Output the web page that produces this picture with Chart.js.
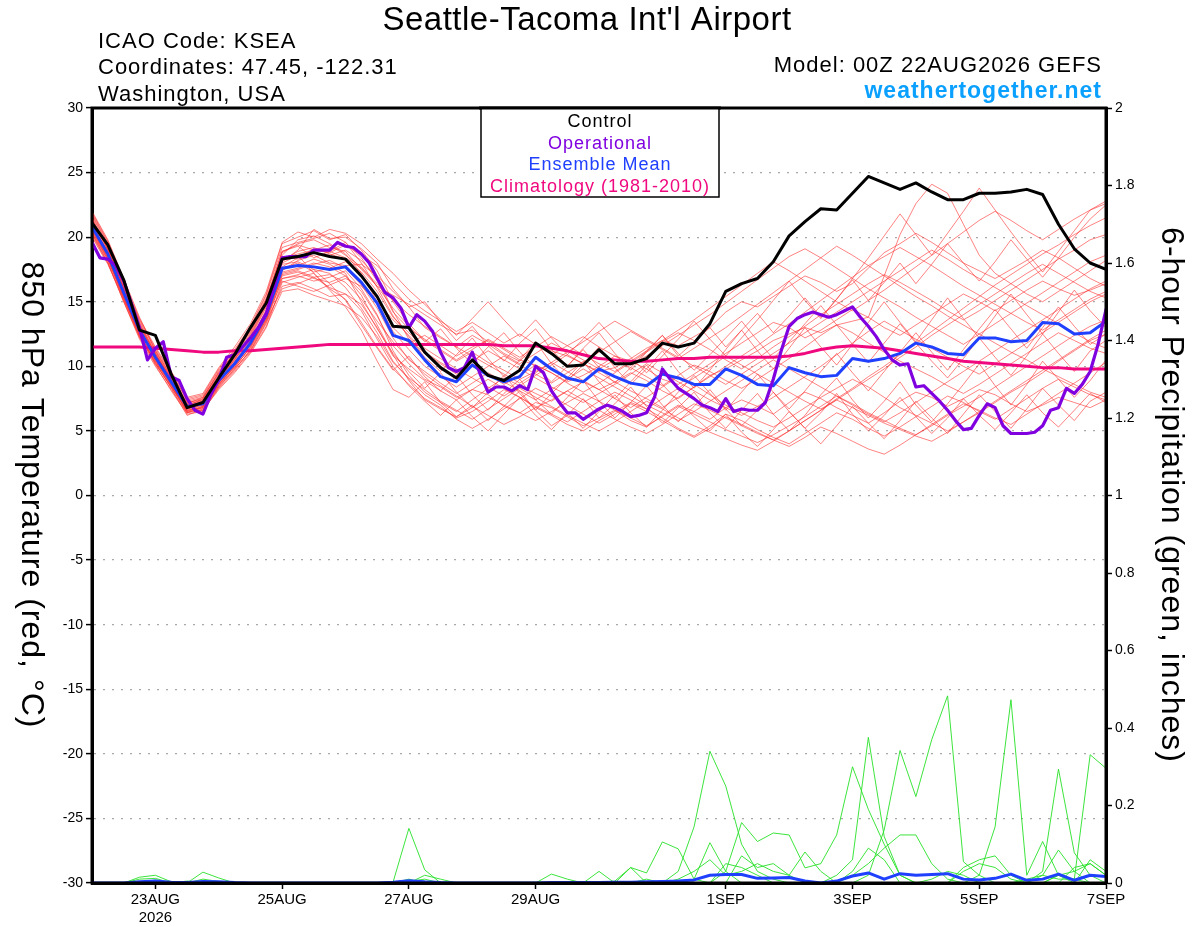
<!DOCTYPE html>
<html><head><meta charset="utf-8">
<script src="https://cdn.jsdelivr.net/npm/chart.js@4.4.1/dist/chart.umd.min.js"></script>
<style>html,body{margin:0;padding:0;background:#fff;overflow:hidden}canvas{display:block}</style>
</head><body>
<canvas id="c" width="1200" height="927"></canvas>
<script>
// ---------- DATA ----------
const xTickHours = [24, 72, 120, 168, 240, 288, 336, 384];
const xTickLabels = [['23AUG','2026'], '25AUG', '27AUG', '29AUG', '1SEP', '3SEP', '5SEP', '7SEP'];
const leftTicksStep = 5, rightTicksStep = 0.2;

// 6-hourly (0..384h)
const control = [
 21.1,19.4,16.7,12.8,12.4,9.4,6.8,7.2,9.1,10.9,
 13.0,14.9,18.3,18.5,18.8,18.5,18.3,17.0,15.4,13.1,
 13.0,11.1,9.9,9.1,10.5,9.3,8.9,9.7,11.8,11.0,
 10.0,10.1,11.3,10.2,10.2,10.6,11.8,11.5,11.8,13.3,
 15.8,16.4,16.8,18.1,20.1,21.2,22.2,22.1,23.4,24.7,
 24.2,23.7,24.2,23.5,22.9,22.9,23.4,23.4,23.5,23.7,
 23.3,21.0,19.1,18.0,17.5];
// 3-hourly (0..384h)
const operational = [
 19.6,18.4,18.3,17.8,16.6,14.8,13.0,10.5,11.4,11.9,
 9.2,8.9,7.5,6.6,6.3,7.8,9.0,10.7,10.9,11.5,
 12.2,13.0,14.1,16.2,18.4,18.5,18.5,18.5,19.0,19.0,
 19.0,19.6,19.3,19.2,18.7,18.0,16.8,15.7,15.3,14.5,
 13.0,14.0,13.5,12.7,11.1,9.9,9.6,9.9,11.1,9.4,
 8.0,8.4,8.4,8.1,8.5,8.2,10.0,9.5,8.1,7.2,
 6.4,6.4,5.9,6.3,6.7,7.0,6.8,6.5,6.1,6.2,
 6.4,7.6,9.8,9.0,8.3,7.9,7.5,7.0,6.8,6.5,
 7.5,6.5,6.7,6.6,6.6,7.2,9.0,11.2,13.1,13.7,
 14.0,14.2,14.0,13.8,14.0,14.3,14.6,13.8,13.1,12.3,
 11.3,10.5,10.1,10.2,8.4,8.5,7.9,7.3,6.6,5.8,
 5.1,5.2,6.2,7.1,6.8,5.4,4.8,4.8,4.8,4.9,
 5.4,6.6,6.8,8.3,7.9,8.6,9.6,11.7,14.4];
const ensMean = [
 20.8,18.7,15.7,12.8,10.7,8.8,6.9,7.1,8.9,10.2,
 11.8,14.0,17.6,17.8,17.7,17.5,17.7,16.5,14.9,12.4,
 12.0,10.5,9.2,8.8,10.1,9.3,8.8,9.2,10.7,9.8,
 9.1,8.8,9.8,9.2,8.7,8.5,9.4,9.1,8.6,8.6,
 9.8,9.3,8.6,8.5,9.9,9.5,9.2,9.3,10.6,10.4,
 10.6,11.0,11.8,11.5,11.0,10.9,12.2,12.2,11.9,12.0,
 13.4,13.3,12.5,12.6,13.5];
const climatology = [
 11.5,11.5,11.5,11.5,11.4,11.3,11.2,11.1,11.1,11.2,
 11.2,11.3,11.4,11.5,11.6,11.7,11.7,11.7,11.7,11.7,
 11.7,11.7,11.7,11.7,11.7,11.7,11.6,11.6,11.6,11.4,
 11.2,10.9,10.6,10.5,10.4,10.4,10.5,10.6,10.6,10.7,
 10.7,10.7,10.7,10.7,10.8,11.0,11.3,11.5,11.6,11.5,
 11.4,11.2,11.0,10.8,10.6,10.4,10.3,10.2,10.1,10.0,
 9.9,9.9,9.8,9.8,9.8];

const member01 = [21.5,19.2,16.0,13.2,10.9,9.0,7.2,7.4,9.4,10.8, 12.6,15.0,18.8,19.5,19.8,19.2,18.9,17.5,16.2,15.5, 14.8,14.0,13.2,12.5,12.8,11.9,11.0,10.4,11.6,11.2, 10.8,10.2,9.6,9.9,10.6,11.4,12.0,11.6,12.3,13.0, 14.2,15.0,14.6,15.4,16.2,17.0,16.5,15.8,16.4,17.6, 18.8,19.5,20.3,19.6,18.8,18.0,17.4,16.8,17.5,18.2, 19.0,18.4,17.6,16.8,16.2];
const member02 = [20.6,18.4,15.3,12.5,10.2,8.4,6.6,6.8,8.6,10.0, 11.4,13.6,17.0,17.3,16.8,16.5,17.0,15.8,13.9,11.6, 10.2,9.0,8.4,7.6,8.2,7.8,6.9,6.4,7.2,6.8, 6.1,5.4,6.0,6.6,5.8,5.3,6.2,7.0,6.5,5.9, 6.8,7.4,6.9,6.3,7.2,8.0,7.5,6.8,6.2,5.6, 6.4,7.3,8.0,7.6,6.9,7.5,8.2,7.8,7.1,6.5, 7.0,7.6,7.2,6.8,7.4];
const member03 = [21.0,18.9,15.9,13.0,11.1,9.2,7.1,7.3,9.0,10.5, 12.2,14.6,18.2,18.9,19.2,18.7,18.3,17.0,15.3,13.0, 11.8,12.4,11.6,10.8,11.5,12.0,11.3,10.5,10.1,9.5, 8.8,9.3,10.0,10.8,10.4,9.8,9.0,8.6,9.4,10.2, 11.0,11.8,12.6,13.4,13.0,12.2,12.8,13.6,14.4,13.8, 13.0,12.4,13.2,14.0,14.8,15.6,15.0,14.3,15.1,15.9, 16.6,16.0,15.5,15.9,16.4];
const member04 = [20.2,18.1,15.1,12.2,10.4,8.6,6.5,6.6,8.2,9.5, 11.0,13.0,16.5,16.9,17.2,16.0,15.2,13.4,11.5,9.8, 8.6,7.5,6.8,6.0,6.5,7.3,8.2,7.6,6.8,6.2, 5.5,5.0,5.8,6.5,7.2,6.7,6.0,5.2,4.6,5.4, 6.3,5.8,5.1,4.5,4.0,4.8,5.6,6.4,5.9,5.2, 4.6,5.3,6.1,6.9,7.7,7.2,6.5,5.9,6.7,7.5, 8.3,9.0,8.4,7.8,7.4];
const member05 = [21.8,19.6,16.5,13.5,11.3,9.4,7.5,7.8,9.8,11.3, 13.1,15.6,19.5,20.0,20.5,19.8,20.2,19.0,17.4,15.0, 13.3,12.0,11.2,10.4,11.1,10.3,9.7,9.0,9.6,10.3, 9.6,8.9,8.2,8.8,9.5,8.9,8.1,7.5,8.4,9.3, 9.8,10.5,11.2,12.0,12.5,13.0,12.6,13.2,13.5,13.8, 17.0,20.2,22.6,24.1,23.4,21.0,18.6,17.2,16.4,15.6, 15.0,15.8,16.6,17.4,18.2];
const member06 = [20.4,18.2,15.6,12.7,10.6,8.7,6.4,6.9,8.8,10.0, 11.9,14.2,16.8,17.0,16.6,16.9,17.4,16.0,14.0,11.2, 9.3,8.0,7.2,6.5,7.4,8.3,9.1,8.5,7.9,7.3, 8.1,8.8,8.2,7.5,6.8,7.6,8.4,9.2,8.6,7.8, 7.0,6.4,5.8,5.3,6.0,6.8,7.6,8.3,9.0,8.4, 7.6,6.8,6.2,5.6,5.0,5.7,6.4,7.2,8.0,8.7, 9.5,10.4,11.2,12.0,12.5];
const member07 = [21.3,19.0,15.8,12.9,10.5,8.5,6.8,7.0,8.7,10.3, 11.6,13.8,17.4,18.2,18.6,18.0,17.8,17.9,17.0,15.8, 14.6,13.0,12.2,11.5,12.4,11.7,10.9,10.2,11.0,11.8, 11.2,10.5,9.8,10.5,9.9,9.2,8.5,9.3,10.1,9.6, 8.9,8.3,9.0,9.8,10.6,11.5,12.4,13.2,12.6,11.8, 11.1,10.4,9.8,9.2,8.5,7.9,8.6,9.4,10.2,11.0, 11.8,12.6,12.0,11.4,11.0];
const member08 = [20.0,17.9,15.2,12.6,10.9,9.1,7.0,7.2,9.1,10.4, 12.0,14.3,17.9,18.1,17.5,17.2,16.1,14.5,12.6,10.4, 9.0,7.8,7.0,5.9,5.2,5.9,6.7,7.5,8.3,7.7, 7.0,6.3,5.6,6.3,7.1,6.5,5.8,5.1,4.5,5.2, 6.1,5.5,4.9,4.3,3.8,4.5,5.3,4.8,4.2,3.6, 3.2,3.9,4.7,5.5,6.3,7.1,6.6,6.0,5.5,6.3, 7.1,7.9,8.7,9.5,10.3];
const member09 = [21.2,19.3,16.2,13.4,11.0,8.9,6.9,7.5,9.6,11.0, 12.8,15.3,18.5,18.3,18.8,18.6,19.0,18.2,16.9,14.3, 12.1,11.0,10.2,9.4,10.1,9.4,8.6,9.3,10.1,9.5, 8.7,8.0,8.7,9.5,10.3,11.1,11.9,12.6,12.0,11.3, 10.5,9.8,10.6,11.5,12.3,13.1,14.0,14.8,15.6,16.4, 17.1,16.5,15.8,15.1,14.3,13.6,14.3,15.1,15.9,16.7, 17.5,18.3,19.0,19.8,20.2];
const member10 = [20.9,18.6,15.5,12.4,10.3,8.3,6.2,6.7,8.5,9.8, 11.2,13.3,16.2,16.5,16.0,15.4,15.6,14.8,13.0,10.8, 9.8,8.9,8.1,7.4,8.2,9.0,8.3,7.6,6.9,6.3, 5.7,6.5,7.3,8.0,7.4,6.7,7.5,8.3,9.1,9.9, 10.8,10.1,9.4,8.7,8.0,7.3,6.7,7.4,8.2,9.0, 9.8,10.7,11.5,12.4,13.2,14.0,14.8,15.6,16.4,17.2, 17.9,17.2,16.5,15.8,15.3];
const member11 = [21.6,19.4,16.3,13.3,11.2,9.3,7.3,7.6,9.5,11.1, 12.9,15.2,18.9,19.4,19.0,18.8,19.4,18.6,17.8,16.5, 15.2,14.3,13.5,12.7,13.4,12.6,11.8,12.5,11.7,10.9, 11.6,12.3,11.5,10.8,10.1,10.8,11.6,12.4,13.2,14.0, 14.9,15.8,16.7,17.6,18.5,19.1,18.4,17.6,16.8,16.0, 15.3,14.6,13.8,13.1,12.4,11.7,12.5,13.3,14.1,14.9, 15.7,16.5,17.3,18.1,18.6];
const member12 = [20.3,18.3,15.4,12.3,10.1,8.1,6.3,6.5,8.4,9.7, 11.3,13.5,16.0,16.4,16.9,17.1,16.5,15.2,13.5,11.9, 10.6,9.4,8.5,7.7,6.9,6.2,5.5,6.1,6.8,7.4, 8.1,7.4,6.6,5.9,5.3,4.8,5.5,6.3,7.1,6.6, 6.0,5.4,4.8,4.3,5.0,5.8,6.6,7.5,8.3,9.2, 10.0,10.9,11.8,12.7,13.6,14.5,15.4,16.3,17.1,17.9, 18.7,19.4,20.2,20.9,21.5];
const member13 = [21.1,18.8,15.7,12.8,10.8,8.9,7.0,7.1,8.9,10.3, 11.8,14.1,17.6,18.0,17.3,17.6,18.1,17.3,15.8,13.8, 12.6,11.4,10.6,9.8,9.1,8.4,7.7,8.5,9.3,10.1, 10.9,10.2,9.5,8.8,8.1,7.5,6.8,7.6,8.4,9.2, 10.0,10.8,11.6,12.5,13.3,14.2,15.1,16.0,16.9,17.8, 18.5,19.2,18.5,17.8,17.0,16.2,15.5,14.8,14.1,13.4, 12.8,13.6,14.4,15.2,15.8];
const member14 = [20.7,18.5,15.8,12.9,10.7,8.8,6.7,6.9,8.7,9.9, 11.5,13.9,17.3,17.6,18.0,17.7,17.0,15.5,13.2,10.9, 8.9,7.4,6.7,6.1,6.8,7.6,7.0,6.4,5.8,6.5, 7.2,7.9,7.3,6.6,6.0,5.4,6.1,6.9,6.3,5.7, 5.1,4.6,4.1,4.7,5.4,6.1,6.9,7.7,7.1,6.4, 5.8,5.2,4.7,5.4,6.2,6.9,7.6,8.4,9.2,10.0, 10.8,11.6,12.4,13.1,13.6];
const member15 = [21.4,19.1,16.1,13.1,11.0,9.1,7.2,7.5,9.3,10.7, 12.4,14.8,18.6,19.8,20.1,19.5,18.7,17.2,15.0,12.7, 11.3,10.0,9.2,8.4,9.2,10.0,10.8,10.1,9.4,8.7, 9.5,10.3,11.1,11.9,12.7,12.0,11.3,10.6,11.4,12.2, 13.0,13.9,14.8,15.7,16.6,17.5,18.4,19.3,18.6,17.8, 17.0,16.2,15.4,14.7,13.9,13.2,12.5,11.8,11.1,10.5, 9.8,9.2,8.6,8.0,7.6];
const member16 = [20.5,18.3,15.2,12.4,10.5,8.6,6.6,6.8,8.5,10.1, 11.7,13.7,16.6,16.2,15.8,16.3,16.8,16.2,15.0,13.6, 12.4,11.1,10.3,9.6,10.4,11.2,10.5,9.8,9.1,8.4, 7.8,7.2,7.9,8.6,9.4,10.2,9.5,8.8,8.1,7.4, 6.8,6.2,6.9,7.6,8.4,9.2,10.0,10.9,11.8,12.7, 13.5,12.8,12.1,11.4,10.7,10.0,9.4,10.2,11.0,11.8, 12.6,13.4,14.2,15.0,15.6];
const member17 = [21.7,19.5,16.4,13.6,11.4,9.5,7.4,7.7,9.7,11.2, 13.0,15.5,19.2,19.6,19.9,20.3,19.6,18.4,16.6,14.2, 12.9,12.1,11.3,10.5,11.3,12.1,11.4,10.7,11.5,12.3, 11.6,10.9,10.2,9.6,10.4,11.2,12.0,12.8,13.6,14.5, 15.4,16.3,17.2,18.1,17.4,16.6,15.8,15.0,14.3,15.1, 15.9,16.8,17.7,18.6,19.5,20.4,21.3,22.0,21.3,20.5, 19.8,20.6,21.4,22.1,22.6];
const member18 = [20.1,18.0,15.0,12.1,10.0,8.2,6.4,6.6,8.3,9.6, 11.1,13.1,15.8,16.0,15.5,15.1,14.7,13.8,12.3,10.3, 9.1,8.2,7.3,6.6,5.9,6.7,7.5,8.3,7.6,6.9, 6.2,5.6,5.0,5.7,6.5,7.3,6.7,6.0,5.4,4.9, 4.4,3.9,3.5,4.2,5.0,5.8,6.6,7.4,6.8,6.2, 5.6,5.1,4.6,4.2,4.9,5.7,6.5,7.3,8.1,8.9, 9.7,10.5,11.3,12.1,12.8];
const member19 = [21.0,18.7,15.6,12.7,10.6,8.7,6.8,7.0,8.8,10.2, 11.8,14.0,17.7,18.4,19.1,18.9,18.4,17.6,16.4,15.1, 14.0,13.1,12.3,11.5,10.8,10.1,9.4,8.7,9.5,10.3, 11.1,11.9,12.7,13.5,12.8,12.1,11.4,10.7,10.0,9.3, 8.6,9.4,10.2,11.0,11.8,12.6,13.4,14.2,15.0,15.8, 16.6,17.4,18.2,19.0,18.3,17.5,16.8,16.1,15.4,14.7, 14.0,13.3,12.6,11.9,11.4];
const member20 = [20.6,18.5,15.4,12.6,10.4,8.5,6.5,6.9,8.8,10.1, 11.6,13.6,17.2,17.5,17.9,18.2,17.6,16.3,14.5,12.2, 10.5,9.6,8.7,7.9,8.7,9.5,8.8,8.1,7.4,8.2, 9.0,9.8,9.1,8.4,7.7,7.0,6.4,5.8,6.5,7.3, 8.1,8.9,9.7,10.5,9.8,9.1,8.4,7.7,7.0,6.3, 5.7,6.4,7.2,8.0,8.8,9.6,10.4,11.2,12.0,12.8, 13.6,14.4,15.2,16.0,16.6];
const member21 = [22.0,19.8,16.8,13.8,11.2,9.2,7.0,7.4,9.2,10.6, 12.5,14.9,18.0,18.6,17.2,15.9,14.6,12.8,10.4,8.2, 7.6,8.8,7.2,6.1,7.0,5.8,6.9,8.1,6.6,5.4, 6.2,7.5,6.0,7.1,8.4,6.9,5.6,6.8,8.0,6.4, 5.2,6.6,7.9,6.3,5.0,6.2,7.8,9.1,7.4,6.0, 7.3,8.8,7.0,5.7,7.1,8.6,10.2,8.5,7.0,8.6, 10.4,9.0,7.6,8.9,10.5];
const member22 = [20.8,18.9,16.0,13.0,10.8,8.6,6.9,7.2,9.0,10.6, 12.0,14.4,18.1,19.0,20.6,19.9,20.0,19.1,18.0,16.0, 14.6,15.0,13.4,12.0,13.1,11.6,10.4,11.8,12.9,11.3, 10.0,11.4,12.6,11.0,9.7,11.1,12.4,10.8,11.9,13.0, 11.5,12.8,14.1,12.6,13.9,15.3,13.8,15.2,16.7,15.1, 16.5,18.0,16.4,17.9,19.5,18.0,16.6,18.1,19.8,18.3, 16.9,18.4,20.0,21.4,22.5];
const member23 = [20.3,18.0,15.0,12.3,10.2,8.4,6.6,6.7,8.4,9.8, 11.2,13.4,16.8,17.1,17.5,16.4,15.1,13.2,11.4,9.7, 10.8,9.2,8.1,9.3,7.8,6.6,7.9,9.0,7.4,6.3, 7.6,8.9,7.3,6.0,7.2,8.5,7.0,5.7,6.9,8.2, 6.7,5.4,6.6,8.0,6.5,5.2,6.4,7.9,6.3,5.0, 6.2,7.6,6.1,4.8,6.0,7.5,6.2,5.1,6.4,7.8, 6.4,5.3,6.6,7.9,7.2];
const member24 = [21.4,19.0,16.1,13.2,11.0,9.0,7.1,7.6,9.5,11.0, 12.7,15.1,18.9,19.3,18.4,18.9,19.6,18.0,16.1,13.9, 12.3,10.7,9.6,10.9,12.2,10.6,9.2,10.5,11.9,10.2, 8.9,10.1,11.5,9.9,8.6,9.8,11.2,9.6,8.3,9.7, 11.3,12.8,11.2,9.8,11.4,13.0,11.5,10.1,11.7,13.4, 15.0,13.4,11.9,13.6,15.3,13.7,12.2,13.9,15.6,14.0, 12.5,14.2,15.9,14.3,13.0];
const member25 = [20.9,18.6,15.6,12.8,10.6,8.7,6.7,7.0,8.9,10.2, 11.9,14.0,17.5,17.8,18.3,17.9,17.2,15.0,12.9,11.0, 9.6,8.3,9.5,8.0,6.8,8.0,9.3,7.9,6.6,7.9, 9.1,10.4,8.8,7.5,8.8,10.1,8.6,7.3,6.1,5.0, 6.3,4.9,3.8,5.1,6.5,5.2,4.0,5.4,6.9,5.6, 4.4,5.8,7.3,6.0,4.8,6.3,7.8,6.5,5.2,6.7, 8.3,7.0,5.8,7.3,8.0];
const member26 = [21.2,19.1,16.0,12.9,10.9,8.9,6.9,7.3,9.1,10.5, 12.3,14.7,18.4,18.7,19.0,19.4,18.6,17.7,16.2,14.5, 13.1,11.9,12.9,11.4,10.2,11.5,12.6,11.1,9.9,8.8, 10.0,11.3,9.9,8.7,9.9,11.2,12.4,11.0,9.7,10.9, 12.2,13.5,12.0,10.6,11.9,13.3,14.7,13.2,11.7,10.3, 11.8,13.3,11.8,10.4,9.1,10.6,12.2,10.7,9.3,10.8, 12.5,11.0,9.6,11.2,12.0];
const member27 = [20.5,18.4,15.3,12.5,10.3,8.4,6.4,6.8,8.6,9.9, 11.5,13.7,17.1,17.4,16.9,16.1,15.6,14.3,12.1,10.0, 8.5,7.3,6.2,7.4,6.1,5.0,6.3,7.6,6.2,5.1, 6.4,5.2,6.5,7.8,6.4,5.3,6.6,8.0,9.3,7.9, 6.6,8.0,9.4,8.0,6.7,8.1,9.6,11.0,9.5,8.1, 9.6,11.1,12.6,11.1,9.7,11.3,12.9,14.4,12.9,11.4, 13.0,14.6,13.1,11.7,12.5];
const member28 = [21.9,19.7,16.6,13.7,11.5,9.6,7.6,7.9,9.9,11.5, 13.3,15.8,19.6,20.4,20.0,20.6,20.3,19.5,18.3,17.2, 15.9,14.8,13.6,12.4,13.7,15.0,13.6,12.3,13.6,12.2, 10.9,12.1,13.4,12.0,10.7,9.5,10.8,12.1,13.5,12.1, 10.8,12.2,13.6,15.1,16.6,15.1,13.7,15.2,16.8,18.4, 20.1,21.8,20.2,18.6,20.3,22.0,23.8,22.1,20.4,18.8, 17.3,18.9,20.5,22.1,22.8];
const tempMembers = [member01,member02,member03,member04,member05,member06,member07,member08,member09,member10,
                     member11,member12,member13,member14,member15,member16,member17,member18,member19,member20,
                     member21,member22,member23,member24,member25,member26,member27,member28];

const precipMean = [0,0,0,0.003,0.005,0.002,0.001,0.004,0.003,0.001, 0,0,0,0,0,0,0,0,0,0.002, 0.006,0.003,0.001,0,0,0,0,0,0,0.001, 0.001,0.001,0.001,0.002,0.002,0.003,0.004,0.005,0.008,0.02, 0.022,0.022,0.012,0.013,0.014,0.005,0,0.005,0.018,0.026, 0.01,0.024,0.02,0.022,0.024,0.01,0.008,0.012,0.023,0.007, 0.01,0.023,0.007,0.02,0.017];
const pcp01 = [0,0,0,0.015,0.02,0.003,0,0,0,0, 0,0,0,0,0,0,0,0,0,0.002, 0.141,0.034,0,0,0,0,0,0,0,0, 0,0,0,0,0,0,0,0,0.01,0.104, 0.03,0,0,0,0,0,0,0,0,0, 0,0,0,0,0,0,0,0,0,0, 0.03,0.294,0.078,0.02,0];
const pcp02 = [0,0,0,0,0.008,0,0,0.01,0.004,0, 0,0,0,0,0,0,0,0,0,0, 0.01,0,0,0,0,0,0,0,0,0, 0,0,0,0,0,0,0,0.03,0.145,0.34, 0.25,0.1,0.03,0.01,0,0,0,0,0,0, 0,0,0,0,0,0,0.02,0.145,0.473,0.02, 0.107,0.02,0,0,0];
const pcp03 = [0,0,0,0,0,0,0,0,0,0, 0,0,0,0,0,0,0,0,0,0, 0.004,0.01,0,0,0,0,0,0,0,0, 0,0,0,0.005,0.04,0.026,0.106,0.088,0.01,0, 0.03,0.156,0.107,0.129,0.124,0.039,0.05,0.124,0.3,0.19, 0.1,0.02,0,0,0,0,0,0,0,0, 0,0,0,0,0];
const pcp04 = [0,0,0,0,0,0,0.005,0,0,0, 0,0,0,0,0,0,0,0,0,0, 0,0,0,0,0,0,0,0,0,0, 0,0,0,0,0,0,0,0,0,0, 0,0,0,0,0,0,0,0,0,0.02, 0.137,0.342,0.223,0.37,0.483,0.055,0.02,0,0,0, 0,0,0,0,0];
const pcp05 = [0,0,0,0,0,0,0,0,0,0, 0,0,0,0,0,0,0,0,0,0, 0,0,0,0,0,0,0,0,0,0, 0,0,0,0,0,0.01,0,0,0,0, 0,0,0,0,0,0,0,0.02,0.06,0.376, 0.12,0.02,0,0,0,0,0,0,0,0, 0,0.02,0.01,0,0];
const pcp06 = [0,0,0,0,0,0,0,0,0,0, 0,0,0,0,0,0,0,0,0,0, 0,0,0,0,0,0,0,0,0,0, 0,0,0,0,0,0,0,0,0,0, 0,0,0,0,0,0,0,0,0,0, 0,0,0,0,0,0,0,0,0,0.01, 0.02,0.01,0.01,0.331,0.296];
const pcp07 = [0,0,0,0,0,0,0,0,0,0, 0,0,0,0,0,0,0,0,0,0, 0,0,0,0,0,0,0,0,0,0, 0,0,0,0,0,0,0,0,0,0, 0,0,0,0,0,0,0,0,0.02,0.05, 0.09,0.124,0.124,0.05,0.01,0,0,0,0,0, 0,0,0,0,0];
const pcp08 = [0,0,0,0,0,0,0,0,0,0, 0,0,0,0,0,0,0,0,0,0, 0,0,0,0,0,0,0,0,0,0, 0,0,0,0,0,0,0,0,0,0, 0,0.07,0.04,0.05,0.02,0.08,0.03,0,0,0, 0,0,0,0,0,0.04,0.06,0.07,0.02,0, 0,0,0,0.06,0.03];
const pcp09 = [0,0,0,0,0,0,0,0.028,0.013,0, 0,0,0,0,0,0,0,0,0,0, 0,0,0,0,0,0,0,0,0,0.023, 0.01,0,0.03,0,0.04,0,0,0,0,0, 0,0,0,0,0,0,0,0,0.03,0.09, 0.06,0,0,0,0,0,0,0,0,0, 0.02,0.085,0.03,0,0];
const pcp10 = [0,0,0,0,0,0,0,0,0,0, 0,0,0,0,0,0,0,0,0,0, 0,0.02,0.01,0,0,0,0,0,0,0, 0,0,0,0,0,0,0,0,0,0, 0.05,0.04,0.02,0,0,0,0,0,0,0, 0,0,0,0.01,0.03,0.02,0,0,0,0, 0,0,0.04,0.05,0.02];
const pcp11 = [0,0,0,0.01,0.012,0,0,0,0,0, 0,0,0,0,0,0,0,0,0,0, 0,0,0,0,0,0,0,0,0,0, 0,0,0,0,0,0,0,0.01,0.03,0.06, 0.02,0.03,0.05,0.03,0.02,0,0,0,0,0, 0,0,0,0,0,0.03,0.05,0.04,0.01,0, 0,0.02,0.03,0.05,0.02];
const precipMembers = [pcp01,pcp02,pcp03,pcp04,pcp05,pcp06,pcp07,pcp08,pcp09,pcp10,pcp11];

// ---------- CHART ----------
const FONT = '"Liberation Sans", Arial, Helvetica, sans-serif';
Chart.defaults.font.family = FONT;
Chart.defaults.color = '#000';

const toPts = (arr, stepH) => arr.map((v, i) => ({x: i * stepH, y: v}));
const lineDs = (data, color, width, axis) => ({
  data, borderColor: color, borderWidth: width, yAxisID: axis,
  pointRadius: 0, pointHoverRadius: 0, fill: false, tension: 0,
  borderJoinStyle: 'round', borderCapStyle: 'round'
});

const datasets = [];
datasets.push(lineDs(toPts(control, 6), '#000000', 3, 'y'));
datasets.push(lineDs(toPts(operational, 3), '#8000e0', 3.2, 'y'));
datasets.push(lineDs(toPts(ensMean, 6), '#2040ff', 3, 'y'));
datasets.push(lineDs(toPts(climatology, 6), '#f0087f', 3, 'y'));
datasets.push(lineDs(toPts(precipMean, 6), '#2040ff', 3, 'y1'));
precipMembers.forEach(p => datasets.push(lineDs(toPts(p, 6), 'rgba(40,225,40,0.9)', 1, 'y1')));
tempMembers.forEach(m => datasets.push(lineDs(toPts(m, 6), 'rgba(255,50,50,0.72)', 0.85, 'y')));

const decor = {
  id: 'decor',
  afterDraw(chart) {
    const ctx = chart.ctx, a = chart.chartArea;
    ctx.save();
    ctx.strokeStyle = '#000'; ctx.lineWidth = 3;
    ctx.strokeRect(a.left, a.top, a.right - a.left, a.bottom - a.top);
    ctx.fillStyle = '#000';
    ctx.textBaseline = 'alphabetic';
    ctx.letterSpacing = '0.5px';
    ctx.font = '33px ' + FONT; ctx.textAlign = 'center';
    ctx.fillText("Seattle-Tacoma Int'l Airport", 587, 30);
    ctx.letterSpacing = '1px';
    ctx.font = '22px ' + FONT; ctx.textAlign = 'left';
    ctx.fillText('ICAO Code: KSEA', 98, 48);
    ctx.fillText('Coordinates: 47.45, -122.31', 98, 74);
    ctx.fillText('Washington, USA', 98, 101);
    ctx.textAlign = 'right';
    ctx.fillText('Model: 00Z 22AUG2026 GEFS', 1102, 72);
    ctx.font = 'bold 23px ' + FONT; ctx.fillStyle = '#0aa0ff';
    ctx.fillText('weathertogether.net', 1102, 98);
    const lx = 481, ly = a.top, lw = 238, lh = 89;
    ctx.fillStyle = '#fff'; ctx.fillRect(lx, ly, lw, lh);
    ctx.strokeStyle = '#000'; ctx.lineWidth = 1.5; ctx.strokeRect(lx, ly, lw, lh);
    ctx.lineWidth = 3; ctx.beginPath(); ctx.moveTo(lx - 2, a.top); ctx.lineTo(lx + lw + 2, a.top); ctx.stroke();
    ctx.font = '18px ' + FONT; ctx.textAlign = 'center'; ctx.letterSpacing = '1px';
    const leg = [['Control', '#000000'], ['Operational', '#8000e0'], ['Ensemble Mean', '#2040ff'], ['Climatology (1981-2010)', '#f0087f']];
    leg.forEach((l, i) => { ctx.fillStyle = l[1]; ctx.fillText(l[0], 600, 127 + i * 21.5); });
    ctx.fillStyle = '#000'; ctx.font = '32px ' + FONT; ctx.textBaseline = 'middle';
    ctx.save(); ctx.translate(31, 495); ctx.rotate(Math.PI / 2);
    ctx.fillText('850 hPa Temperature (red, °C)', 0, 0); ctx.restore();
    ctx.save(); ctx.translate(1171, 495); ctx.rotate(Math.PI / 2);
    ctx.fillText('6-hour Precipitation (green, inches)', 0, 0); ctx.restore();
    ctx.letterSpacing = '0px';
    ctx.restore();
  }
};

new Chart(document.getElementById('c'), {
  type: 'line',
  data: {datasets},
  options: {
    responsive: false, animation: false, devicePixelRatio: 1,
    layout: {padding: {top: 108, left: 0, right: 0, bottom: 0}},
    plugins: {legend: {display: false}, tooltip: {enabled: false}, title: {display: false}},
    scales: {
      x: {
        type: 'linear', min: 0, max: 384,
        afterBuildTicks: s => { s.ticks = xTickHours.map(v => ({value: v})); },
        afterFit: s => { s.height = 44; },
        ticks: {autoSkip: false, maxRotation: 0, padding: 2, font: {size: 15}, color: '#000',
                callback: v => xTickLabels[xTickHours.indexOf(v)]},
        grid: {display: true, drawOnChartArea: false, drawTicks: true, tickLength: 6, tickColor: '#000', tickWidth: 1.5},
        border: {display: true, color: '#000', width: 3}
      },
      y: {
        position: 'left', min: -30, max: 30,
        afterFit: s => { s.width = 92; },
        ticks: {stepSize: leftTicksStep, font: {size: 14}, color: '#000', padding: 3},
        grid: {color: '#a8a8a8', lineWidth: 1.2, drawTicks: true, tickLength: 6, tickColor: '#000', tickWidth: 1.5, tickBorderDash: []},
        border: {display: true, color: '#000', width: 3, dash: [2, 7]}
      },
      y1: {
        position: 'right', min: 0, max: 2,
        afterFit: s => { s.width = 94; },
        ticks: {stepSize: rightTicksStep, font: {size: 14}, color: '#000', padding: 3,
                callback: v => String(Math.round(v * 10) / 10)},
        grid: {drawOnChartArea: false, drawTicks: true, tickLength: 6, tickColor: '#000', tickWidth: 1.5},
        border: {display: true, color: '#000', width: 3}
      }
    }
  },
  plugins: [decor]
});
</script>
</body></html>
